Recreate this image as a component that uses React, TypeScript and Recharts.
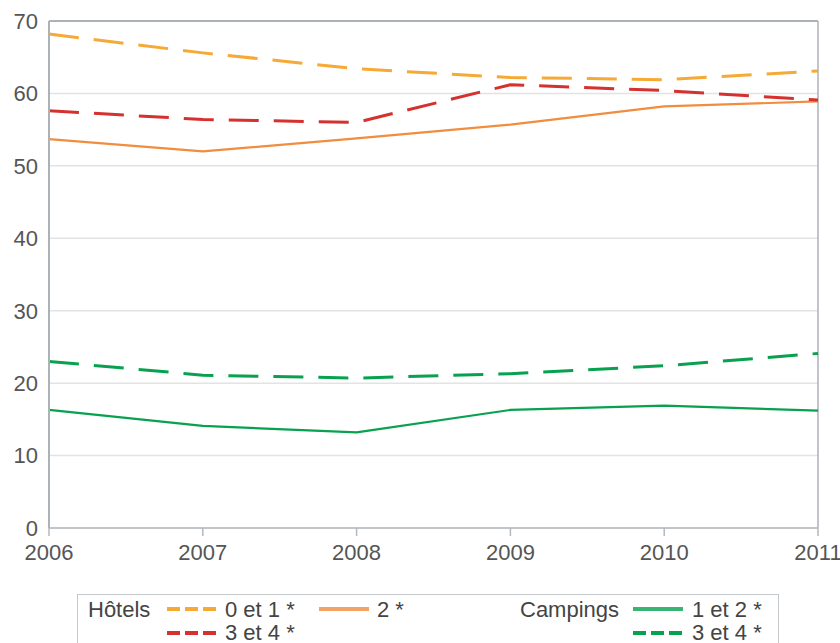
import { LineChart, Line, XAxis, YAxis, CartesianGrid, ReferenceLine } from "recharts";

// values
const years = [2006, 2007, 2008, 2009, 2010, 2011];
const hotels01 = [68.2, 65.6, 63.4, 62.2, 61.9, 63.1];
const hotels2 = [53.7, 52.0, 53.8, 55.7, 58.2, 58.9];
const hotels34 = [57.6, 56.4, 56.0, 61.2, 60.4, 59.1];
const campings12 = [16.3, 14.1, 13.2, 16.3, 16.9, 16.2];
const campings34 = [23.0, 21.1, 20.7, 21.3, 22.4, 24.1];
const yTicks = [0, 10, 20, 30, 40, 50, 60, 70];

const data = years.map((year, i) => ({
  year,
  hotels01: hotels01[i],
  hotels2: hotels2[i],
  hotels34: hotels34[i],
  campings12: campings12[i],
  campings34: campings34[i],
}));

const FONT = '"Liberation Sans", Arial, sans-serif';
const AXIS = "#adb2b7";

const series = [
  { key: "campings12", label: "1 et 2 *", color: "#07a14f", dash: undefined, width: 2.2 },
  { key: "campings34", label: "3 et 4 *", color: "#07a14f", dash: "30 15", width: 3 },
  { key: "hotels2", label: "2 *", color: "#f08d3f", dash: undefined, width: 2.2 },
  { key: "hotels34", label: "3 et 4 *", color: "#d4312f", dash: "30 15", width: 3 },
  { key: "hotels01", label: "0 et 1 *", color: "#f6a935", dash: "30 15", width: 3 },
];

// legend layout: [series key, swatch x, row]
const legendItems: [string, number, number][] = [
  ["hotels01", 167, 0],
  ["hotels2", 319, 0],
  ["hotels34", 167, 1],
  ["campings12", 633, 0],
  ["campings34", 633, 1],
];

const ChartLegend = () => (
  <svg
    width={840}
    height={643}
    style={{ position: "absolute", left: 0, top: 0, pointerEvents: "none" }}
  >
    <rect x={77.5} y={594.5} width={701} height={60} fill="none" stroke="#c6c9cc" />
    <g fontFamily={FONT} fontSize={22} fill="#444">
      <text x={88} y={617}>Hôtels</text>
      <text x={520} y={617}>Campings</text>
      {legendItems.map(([key, sx, row]) => {
        const s = series.find((d) => d.key === key)!;
        const y = 609 + row * 24;
        return (
          <g key={key}>
            <line
              x1={sx}
              x2={sx + 50}
              y1={y}
              y2={y}
              stroke={s.color}
              strokeOpacity={s.dash ? 1 : 0.8}
              strokeWidth={4}
              strokeDasharray={s.dash ? "13 5" : undefined}
            />
            <text x={sx + (sx > 600 ? 59 : 58)} y={617 + row * 23}>
              {s.label}
            </text>
          </g>
        );
      })}
    </g>
  </svg>
);

export default function App() {
  return (
    <div style={{ position: "absolute", left: 0, top: 0, width: 840, height: 643, overflow: "hidden", background: "#fff" }}>
      <LineChart
        width={840}
        height={643}
        data={data}
        margin={{ top: 21, right: 22, bottom: 83, left: 0 }}
      >
        <CartesianGrid vertical={false} stroke="#e3e3e3" strokeWidth={1.5} />
        <XAxis
          dataKey="year"
          type="number"
          domain={[2006, 2011]}
          ticks={years}
          interval={0}
          height={32}
          tickSize={8}
          tickMargin={8}
          axisLine={{ stroke: "#b4b8bc", strokeWidth: 1.5 }}
          tickLine={{ stroke: "#b4b8bc", strokeWidth: 1.5 }}
          tick={{ fill: "#555", fontSize: 22, fontFamily: FONT }}
        />
        <YAxis
          domain={[0, 70]}
          ticks={yTicks}
          interval={0}
          width={49}
          tickSize={0}
          tickMargin={11}
          tickLine={false}
          axisLine={{ stroke: AXIS, strokeWidth: 2 }}
          tick={{ fill: "#555", fontSize: 22, fontFamily: FONT }}
        />
        <ReferenceLine y={70} stroke={AXIS} strokeWidth={2} />
        <ReferenceLine x={2011} stroke={AXIS} strokeWidth={1.5} />
        {series.map((s) => (
          <Line
            key={s.key}
            type="linear"
            dataKey={s.key}
            stroke={s.color}
            strokeWidth={s.width}
            strokeDasharray={s.dash}
            dot={false}
            isAnimationActive={false}
          />
        ))}
      </LineChart>
      <ChartLegend />
    </div>
  );
}
